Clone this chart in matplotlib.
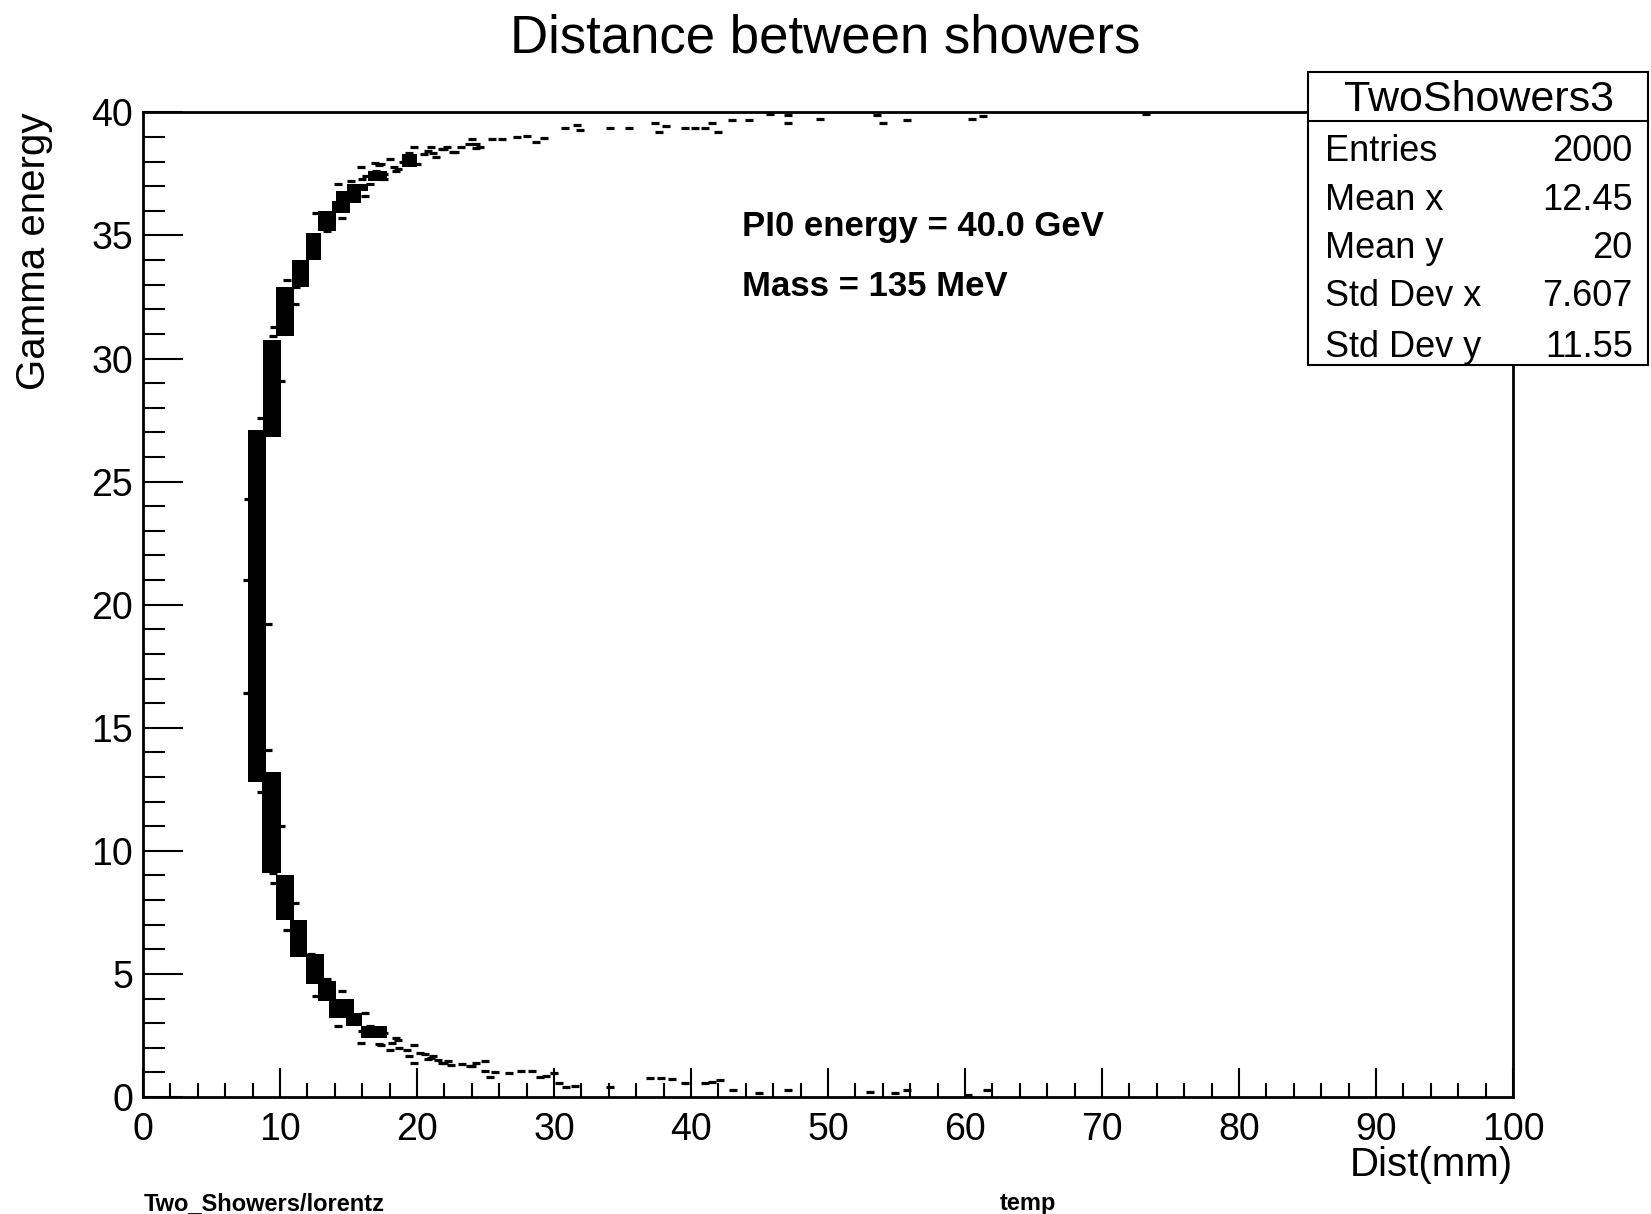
import matplotlib
matplotlib.use('Agg')
import matplotlib.pyplot as plt
from matplotlib.patches import Rectangle
from matplotlib.ticker import MultipleLocator
from matplotlib import font_manager

# dense parts of the scatter band (y range, x range)
block_y0 = [2.4, 2.9, 3.2, 3.9, 4.6, 5.7, 7.2, 9.1, 12.8, 26.8, 30.9, 32.9, 34.0, 35.2, 35.9, 36.3, 36.8, 37.2, 37.8]
block_y1 = [2.9, 3.4, 4.0, 4.7, 5.8, 7.2, 9.0, 13.2, 27.1, 30.75, 32.9, 34.0, 35.1, 36.0, 36.4, 36.8, 37.1, 37.6, 38.3]
block_x0 = [15.9, 14.8, 13.6, 12.8, 11.9, 10.7, 9.7, 8.7, 7.7, 8.75, 9.7, 10.9, 11.9, 12.8, 13.8, 14.1, 14.9, 16.4, 18.9]
block_x1 = [17.8, 16.0, 15.4, 14.1, 13.2, 12.0, 11.0, 10.1, 9.0, 10.05, 11.0, 12.1, 13.0, 14.1, 15.1, 15.9, 16.4, 17.8, 20.0]

# isolated entries (tails and ragged edges)
hit_x = [
    # upper tail
    20.5, 21.0, 21.4, 22.0, 22.6, 23.2, 23.8, 24.3, 21.8, 22.2, 22.8, 24.0, 24.3, 24.6,
    25.5, 26.2, 27.3, 28.0, 28.7, 29.3, 30.8, 31.7, 31.9, 34.1, 35.5, 37.4, 37.7, 38.2,
    39.6, 40.3, 41.0, 41.5, 42.0, 43.0, 44.2, 45.8, 47.1, 47.1, 49.4, 53.6, 54.0, 55.8,
    60.5, 61.3, 73.2,
    15.2, 16.3, 17.0, 17.6, 18.3, 19.0, 19.6, 20.0, 16.9,
    15.5, 16.0, 17.2, 18.0, 18.6, 19.4, 20.8, 19.8, 21.2,
    9.5, 11.2, 10.5, 12.3, 13.4, 12.6, 14.5, 16.2, 14.2, 16.6, 17.6, 15.9, 18.5, 17.4,
    # edges of the central band
    7.6, 7.6, 7.7, 9.1, 9.1, 8.6, 10.1, 8.6, 10.1, 9.6, 11.1, 9.6, 11.1,
    # lower tail
    18.2, 18.7, 19.3, 19.8, 20.2, 20.6, 21.0, 21.5, 22.0, 22.5, 23.3, 23.9, 24.3,
    21.8, 22.3, 24.0, 25.0, 25.0, 25.3, 25.7, 26.7, 27.6, 28.4, 29.0, 29.4, 30.0,
    30.4, 30.9, 31.5, 34.1, 37.0, 37.8, 38.6, 39.6, 41.0, 41.5, 42.1, 43.1, 45.0,
    47.1, 53.1, 54.9, 55.8, 60.2, 61.6,
    15.5, 16.0, 17.2, 18.0, 18.6, 19.4, 20.8, 19.8, 21.2,
    9.5, 11.2, 10.5, 12.3, 13.4, 12.6, 14.5, 16.2, 14.2, 16.6, 17.6, 15.9, 18.5, 17.4,
]
hit_y = [
    38.3, 38.6, 38.2, 38.5, 38.4, 38.6, 38.7, 38.55, 38.5, 38.6, 38.4, 38.9, 38.7, 38.6,
    38.9, 38.9, 39.0, 39.05, 38.8, 38.95, 39.35, 39.5, 39.3, 39.36, 39.36, 39.56, 39.2, 39.45,
    39.36, 39.36, 39.38, 39.56, 39.2, 39.7, 39.7, 39.95, 39.9, 39.56, 39.75, 39.9, 39.56, 39.7,
    39.75, 39.85, 39.95,
    37.2, 37.4, 37.6, 37.5, 37.8, 38.0, 38.2, 37.9, 37.95,
    37.0, 37.3, 37.85, 38.1, 37.7, 38.35, 38.45, 38.6, 38.35,
    30.9, 32.9, 33.2, 34.2, 35.2, 35.9, 35.7, 36.6, 37.1, 37.1, 37.3, 37.8, 37.6, 37.9,
    16.4, 21.0, 24.3, 19.2, 14.1, 12.4, 11.0, 27.6, 29.1, 8.7, 7.9, 31.3, 32.2,
    2.2, 2.0, 1.9, 2.1, 1.8, 1.75, 1.6, 1.5, 1.4, 1.3, 1.35, 1.25, 1.4,
    1.4, 1.45, 1.25, 1.45, 1.05, 0.83, 1.0, 0.98, 1.05, 1.05, 0.83, 0.85, 0.96,
    0.55, 0.42, 0.45, 0.42, 0.76, 0.76, 0.72, 0.55, 0.55, 0.6, 0.69, 0.28, 0.15,
    0.28, 0.2, 0.15, 0.28, 0.1, 0.3,
    3.0, 2.7, 2.15, 1.9, 2.3, 1.65, 1.55, 1.4, 1.65,
    9.1, 7.1, 6.8, 5.8, 4.8, 4.1, 4.3, 3.4, 2.9, 2.9, 2.6, 2.2, 2.4, 2.1,
]

stats_names = ['Entries', 'Mean x', 'Mean y', 'Std Dev x', 'Std Dev y']
stats_values = ['2000', '12.45', '20', '7.607', '11.55']

names = {f.name for f in font_manager.fontManager.ttflist}
plt.rcParams['font.family'] = ['Liberation Sans', 'DejaVu Sans']
if 'Liberation Sans Narrow' in names:
    narrow = ['Liberation Sans Narrow', 'Liberation Sans']
    big_bold, small_bold = 29, 21
else:
    narrow = ['Liberation Sans', 'DejaVu Sans']
    big_bold, small_bold = 25, 17

fig = plt.figure(figsize=(16.51, 12.14), dpi=100)
ax = fig.add_axes([0.0866, 0.0964, 0.8298, 0.8110])

ax.bar(block_x0, [t - b for t, b in zip(block_y1, block_y0)],
       width=[r - l for r, l in zip(block_x1, block_x0)], bottom=block_y0,
       align='edge', color='black', linewidth=0)
ax.plot(hit_x, hit_y, linestyle='none', marker='_', markersize=5.5,
        markeredgewidth=2.3, color='black')

ax.set_xlim(0, 100)
ax.set_ylim(0, 40)
ax.xaxis.set_major_locator(MultipleLocator(10))
ax.xaxis.set_minor_locator(MultipleLocator(2))
ax.yaxis.set_major_locator(MultipleLocator(5))
ax.yaxis.set_minor_locator(MultipleLocator(1))
ax.tick_params(axis='x', which='major', direction='in', length=21, width=1.5,
               labelsize=27, pad=11, top=False)
ax.tick_params(axis='x', which='minor', direction='in', length=10, width=1.5, top=False)
ax.tick_params(axis='y', which='major', direction='in', length=29, width=1.5,
               labelsize=27, pad=7, right=False)
ax.tick_params(axis='y', which='minor', direction='in', length=16, width=1.5, right=False)
for s in ax.spines.values():
    s.set_linewidth(2)

ax.set_xlabel('Dist(mm)', fontsize=29, loc='right')
ax.xaxis.set_label_coords(1.0, -0.05)
ax.set_ylabel('Gamma energy', fontsize=29, loc='top')
ax.yaxis.set_label_coords(-0.066, 1.0)

fig.text(0.5, 0.968, 'Distance between showers', fontsize=38, ha='center', va='center')
fig.text(0.4494, 0.8135, 'PI0 energy = 40.0 GeV', fontsize=big_bold, fontweight='bold',
         family=narrow, ha='left', va='center')
fig.text(0.4494, 0.764, 'Mass = 135 MeV', fontsize=big_bold, fontweight='bold',
         family=narrow, ha='left', va='center')
fig.text(0.0872, 0.009, 'Two_Showers/lorentz', fontsize=small_bold, fontweight='bold',
         family=narrow, ha='left', va='center')
fig.text(0.6057, 0.009, 'temp', fontsize=small_bold, fontweight='bold',
         family=narrow, ha='left', va='center')

# statistics box
fig.add_artist(Rectangle((0.7923, 0.6993), 0.2057, 0.2414, transform=fig.transFigure,
                         facecolor='white', edgecolor='black', linewidth=1.5, zorder=5))
fig.add_artist(plt.Line2D([0.7923, 0.998], [0.9003, 0.9003], transform=fig.transFigure,
                          color='black', linewidth=1.5, zorder=6))
fig.text(0.8958, 0.918, 'TwoShowers3', fontsize=31, ha='center', va='center', zorder=7)
row_y = [0.875, 0.835, 0.795, 0.756, 0.714]
for name, val, yy in zip(stats_names, stats_values, row_y):
    fig.text(0.8025, yy, name, fontsize=26, ha='left', va='center', zorder=7)
    fig.text(0.989, yy, val, fontsize=26, ha='right', va='center', zorder=7)

fig.savefig('out.png', dpi=100)
